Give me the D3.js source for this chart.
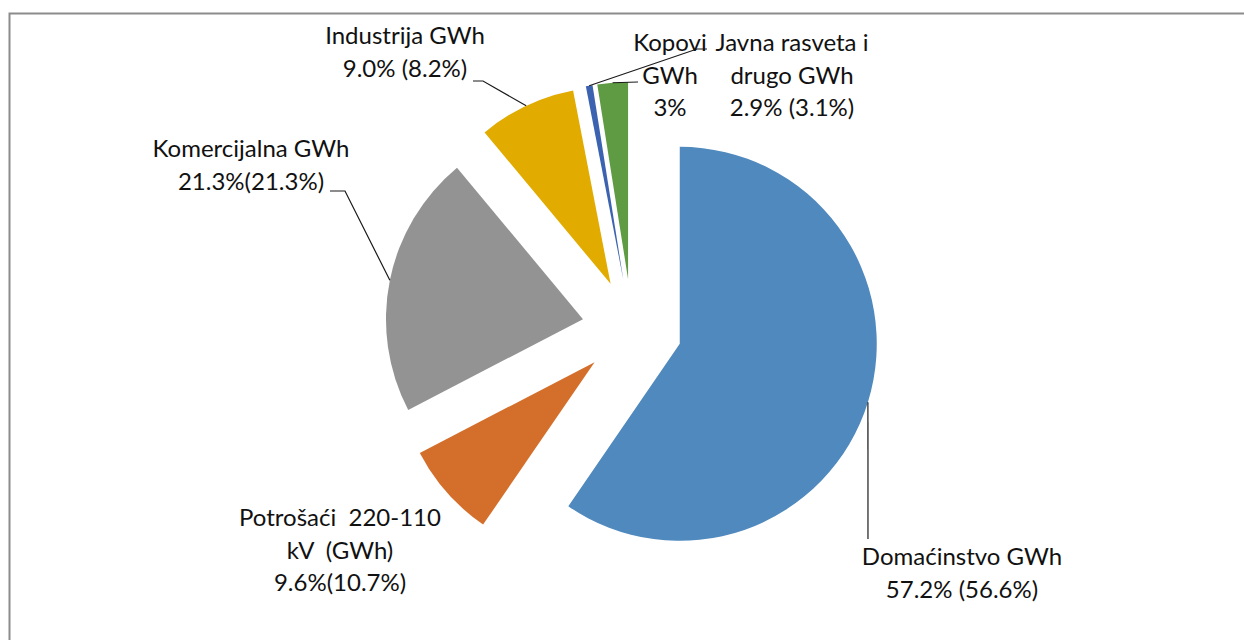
<!DOCTYPE html>
<html>
<head>
<meta charset="utf-8">
<script src="https://cdn.jsdelivr.net/npm/d3@7"></script>
<style>
  body { margin: 0; background: #fff; }
  svg text { font-family: Lato, 'Noto Sans', sans-serif; fill: #111; white-space: pre; }
</style>
</head>
<body>
<div id="chart"></div>
<script>
// slice data (share of total)
const categories = ['Domaćinstvo', 'Potrošaći 220-110 kV', 'Komercijalna', 'Industrija', 'Kopovi', 'Javna rasveta i drugo'];
const values = [59.6, 7.8, 21.6, 8.0, 0.55, 2.5];
const labelLines = [
  ['Domaćinstvo GWh', '57.2% (56.6%)'],
  ['Potrošaći  220-110', 'kV  (GWh)', '9.6%(10.7%)'],
  ['Komercijalna GWh', '21.3%(21.3%)'],
  ['Industrija GWh', '9.0% (8.2%)'],
  ['Kopovi', 'GWh', '3%'],
  ['Javna rasveta i', 'drugo GWh', '2.9% (3.1%)'],
];
const colors = ['#4f89bd', '#d46f2b', '#939393', '#e2ab00', '#3c63b0', '#5f9b42'];

// label layout (centre x, first baseline y) and leader bends
const labelPos = [[962, 565], [340, 526], [251, 157], [405, 44], [670, 51], [792, 51]];
const leaderPts = [
  [[868, 539]],
  null,
  [[330, 191], [345, 191]],
  [[473, 81], [483, 81]],
  [[707, 49], [697, 49]],
  [[638, 82]],
];

const width = 1244;
const height = 640;
const cx = 632;
const cy = 329;
const radius = 197;
const explode = 50;
const lineH = 32.5;

const svg = d3.select('#chart').append('svg')
  .attr('width', width)
  .attr('height', height);

// chart area border
svg.append('rect')
  .attr('x', 9.5)
  .attr('y', 13.5)
  .attr('width', width + 20)
  .attr('height', height + 20)
  .attr('fill', 'none')
  .attr('stroke', '#8c8c8c')
  .attr('stroke-width', 2);

const pie = d3.pie().sort(null).value((d) => d)(values);
const arc = d3.arc().innerRadius(0).outerRadius(radius);

const g = svg.append('g').attr('transform', `translate(${cx}, ${cy})`);

const offset = (d, dist) => {
  const a = (d.startAngle + d.endAngle) / 2;
  return [Math.sin(a) * dist, -Math.cos(a) * dist];
};

g.selectAll('path.slice')
  .data(pie)
  .join('path')
  .attr('class', 'slice')
  .attr('fill', (d, i) => colors[i])
  .attr('transform', (d) => {
    const [ox, oy] = offset(d, explode);
    return `translate(${ox}, ${oy})`;
  })
  .attr('d', arc);

// leader lines: from label to the outer edge at the slice's mid angle
pie.forEach((d, i) => {
  if (!leaderPts[i]) return;
  const [ox, oy] = offset(d, explode);
  const [ex, ey] = offset(d, radius);
  const pts = leaderPts[i].concat([[cx + ox + ex, cy + oy + ey]]);
  svg.append('path')
    .attr('d', d3.line()(pts))
    .attr('fill', 'none')
    .attr('stroke', '#1a1a1a')
    .attr('stroke-width', 1.2);
});

// labels
labelLines.forEach((lines, i) => {
  const t = svg.append('text')
    .attr('text-anchor', 'middle')
    .attr('font-size', 24);
  lines.forEach((s, k) => {
    t.append('tspan')
      .attr('x', labelPos[i][0])
      .attr('y', labelPos[i][1] + k * lineH)
      .text(s);
  });
});
</script>
</body>
</html>
